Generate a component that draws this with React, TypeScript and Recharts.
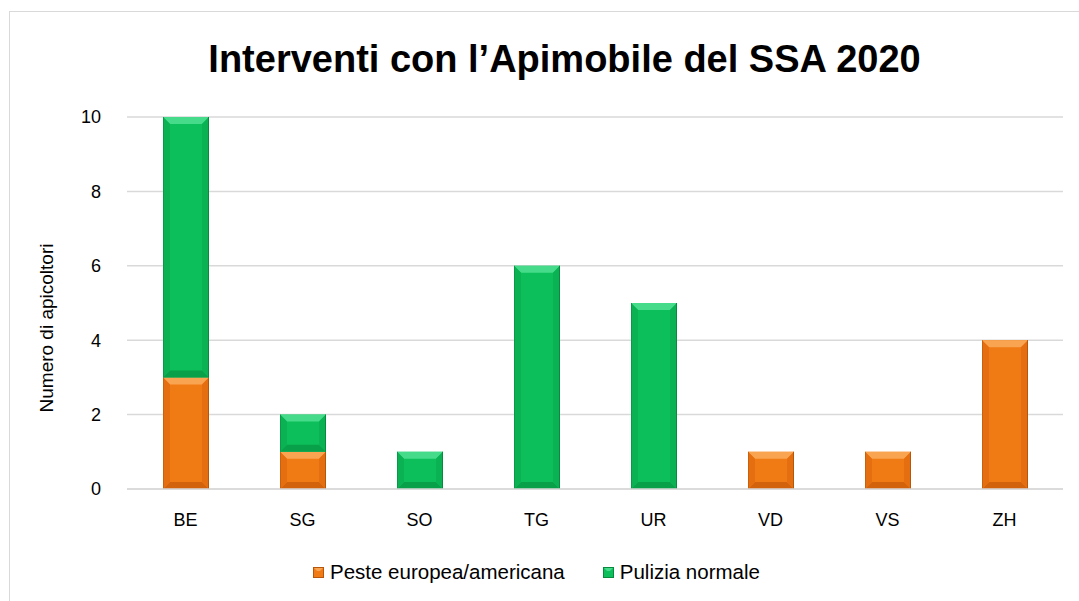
import React from 'react';
import { BarChart, Bar, XAxis, YAxis, CartesianGrid } from 'recharts';

const cantons = ['BE', 'SG', 'SO', 'TG', 'UR', 'VD', 'VS', 'ZH'];
const peste = [3, 1, 0, 0, 0, 1, 1, 4];
const pulizia = [7, 1, 1, 6, 5, 0, 0, 0];
const yTicks = [0, 2, 4, 6, 8, 10];

const data = cantons.map((c, i) => ({ name: c, peste: peste[i], pulizia: pulizia[i] }));

const FONT = '"Liberation Sans", Arial, sans-serif';

const palettes: Record<string, { base: string; top: string; bottom: string; side: string; edge: string }> = {
  orange: { base: '#F07A14', top: '#F9A450', bottom: '#D2620C', side: '#E56F10', edge: '#B5560A' },
  green: { base: '#0CBF5A', top: '#45DB8A', bottom: '#08A049', side: '#0AB254', edge: '#078A3E' },
};

const BevelBar = (color: string) => (props: any) => {
  const { x, y, width, height } = props;
  if (!height || height <= 0) return null;
  const p = palettes[color];
  const b = Math.min(7, height / 3);
  return (
    <g>
      <rect x={x} y={y} width={width} height={height} fill={p.base} />
      <polygon points={`${x},${y} ${x + width},${y} ${x + width - b},${y + b} ${x + b},${y + b}`} fill={p.top} />
      <polygon
        points={`${x},${y + height} ${x + width},${y + height} ${x + width - b},${y + height - b} ${x + b},${y + height - b}`}
        fill={p.bottom}
      />
      <polygon points={`${x},${y} ${x + b},${y + b} ${x + b},${y + height - b} ${x},${y + height}`} fill={p.side} />
      <polygon
        points={`${x + width},${y} ${x + width - b},${y + b} ${x + width - b},${y + height - b} ${x + width},${y + height}`}
        fill={p.side}
      />
      <line x1={x + width - 0.5} y1={y} x2={x + width - 0.5} y2={y + height} stroke={p.edge} strokeWidth={1} />
      <line x1={x + 0.5} y1={y} x2={x + 0.5} y2={y + height} stroke={p.edge} strokeWidth={1} strokeOpacity={0.6} />
    </g>
  );
};

const LegendSwatch = ({ color }: { color: string }) => {
  const p = palettes[color];
  return (
    <svg width={11} height={11} style={{ marginRight: 6 }}>
      <rect x={0} y={0} width={11} height={11} fill={p.base} />
      <polygon points="0,0 11,0 7,4 4,4" fill={p.top} />
      <rect x={0.5} y={0.5} width={10} height={10} fill="none" stroke={p.edge} />
    </svg>
  );
};

export default function App() {
  return (
    <div style={{ position: 'absolute', left: 0, top: 0, width: 1079, height: 601, overflow: 'hidden', background: '#fff', fontFamily: FONT }}>
      <div style={{ position: 'absolute', left: 9, top: 11, width: 1100, height: 620, border: '1px solid #d9d9d9' }} />
      <div style={{ position: 'absolute', left: 0, top: 38, width: 1079, paddingLeft: 50, boxSizing: 'border-box', textAlign: 'center', fontSize: 38, fontWeight: 'bold', color: '#000' }}>
        Interventi con l’Apimobile del SSA 2020
      </div>
      <div
        style={{
          position: 'absolute',
          left: 47,
          top: 328,
          transform: 'translate(-50%, -50%) rotate(-90deg)',
          fontSize: 19,
          whiteSpace: 'nowrap',
          color: '#000',
        }}
      >
        Numero di apicoltori
      </div>
      <div style={{ position: 'absolute', left: 0, top: 0 }}>
        <BarChart width={1079} height={601} data={data} margin={{ top: 117, right: 16, bottom: 72, left: 67 }}>
          <CartesianGrid vertical={false} stroke="#d9d9d9" strokeWidth={1.5} />
          <XAxis
            dataKey="name"
            height={40}
            tickLine={false}
            axisLine={{ stroke: '#d9d9d9', strokeWidth: 1.5 }}
            tick={{ fill: '#000', fontSize: 18, fontFamily: FONT }}
            tickMargin={18}
          />
          <YAxis
            width={60}
            domain={[0, 10]}
            ticks={yTicks}
            axisLine={false}
            tickLine={false}
            tick={{ fill: '#000', fontSize: 18, fontFamily: FONT }}
            tickMargin={20}
          />
          <Bar dataKey="peste" stackId="a" barSize={46} shape={BevelBar('orange')} isAnimationActive={false} />
          <Bar dataKey="pulizia" stackId="a" barSize={46} shape={BevelBar('green')} isAnimationActive={false} />
        </BarChart>
      </div>
      <div
        style={{
          position: 'absolute',
          left: 313,
          top: 560,
          display: 'flex',
          alignItems: 'center',
          fontSize: 20.5,
          color: '#000',
          whiteSpace: 'nowrap',
        }}
      >
        <span style={{ display: 'flex', alignItems: 'center', marginRight: 38 }}>
          <LegendSwatch color="orange" />
          Peste europea/americana
        </span>
        <span style={{ display: 'flex', alignItems: 'center' }}>
          <LegendSwatch color="green" />
          Pulizia normale
        </span>
      </div>
    </div>
  );
}
